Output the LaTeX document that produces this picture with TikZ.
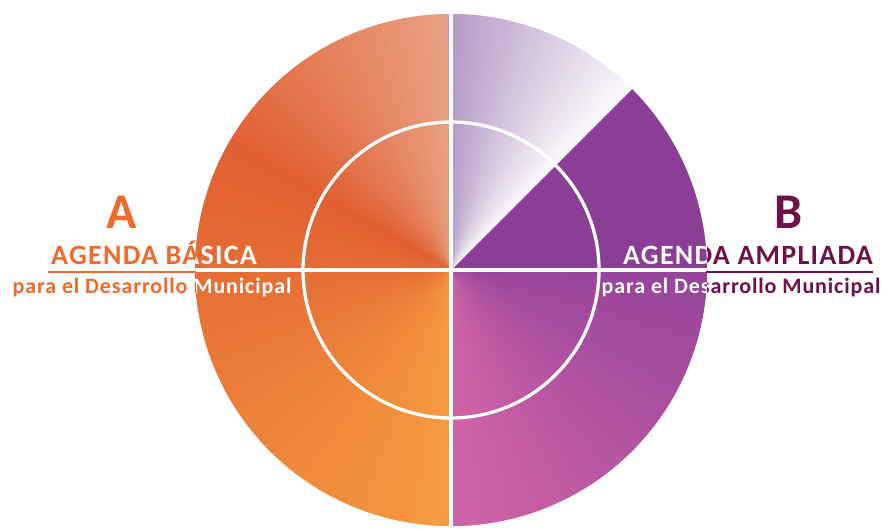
\documentclass[tikz,border=0pt]{standalone}
\usepackage{fontspec}
\setmainfont{Carlito}
\usepackage{tikz}

% colours of the two halves
\definecolor{orlight}{HTML}{E9A183}
\definecolor{ordark}{HTML}{E05F31}
\definecolor{orwarm}{HTML}{F69C40}
\definecolor{pugrey}{HTML}{B49AC4}
\definecolor{puwhite}{HTML}{FBF8FB}
\definecolor{pusolid}{HTML}{8A3E96}
\definecolor{pupink}{HTML}{D163A7}
\definecolor{puviolet}{HTML}{96459B}
\definecolor{txtorange}{HTML}{EF6A2B}
\definecolor{txtplum}{HTML}{6E1149}

\begin{document}
\begin{tikzpicture}[x=1pt,y=-1pt,
    title/.style = {font=\bfseries\fontsize{28}{32}\selectfont\addfontfeatures{LetterSpace=4.5}, inner sep=0pt, anchor=base},
    sub/.style = {font=\bfseries\fontsize{22}{26}\selectfont\addfontfeatures{LetterSpace=4}, inner sep=0pt, anchor=base},
    letter/.style = {font=\bfseries\fontsize{50}{56}\selectfont, inner sep=0pt, anchor=base},
    whiteline/.style = {draw=white, line width=3.3pt}]
\useasboundingbox (0,0) rectangle (890,528);
\coordinate (c) at (451,270);

% left half: orange sweep
\foreach \a in {90,91,...,149}{
  \pgfmathsetmacro\p{100*(\a-90)/60}
  \fill[ordark!\p!orlight] (c) -- ++(\a:256pt) arc[start angle=\a,end angle=\a+2,radius=256pt] -- cycle;
}
\foreach \a in {150,151,...,269}{
  \pgfmathsetmacro\p{100*(\a-150)/120}
  \fill[orwarm!\p!ordark] (c) -- ++(\a:256pt) arc[start angle=\a,end angle=\a+2,radius=256pt] -- cycle;
}
% right half
\foreach \a in {270,271,...,359}{
  \pgfmathsetmacro\p{100*(\a-270)/90}
  \fill[puviolet!\p!pupink] (c) -- ++(\a:256pt) arc[start angle=\a,end angle=\a+2,radius=256pt] -- cycle;
}
\fill[pusolid] (c) -- ++(0:256pt) arc[start angle=0,end angle=45,radius=256pt] -- cycle;
\foreach \a in {45,46,...,89}{
  \pgfmathsetmacro\p{100*(\a-45)/45}
  \fill[pugrey!\p!puwhite] (c) -- ++(\a:256pt) arc[start angle=\a,end angle=\a+1.8,radius=256pt] -- cycle;
}

% white cross and ring
\coordinate (top) at (451,14);
\coordinate (bot) at (451,526);
\coordinate (west) at (195,270);
\coordinate (east) at (707,270);
\draw[whiteline] (c) circle[radius=148pt];
\draw[whiteline, line width=3.8pt] (top) -- (bot);
\draw[whiteline] (west) -- (east);

% underlines outside the circle
\coordinate (ulA) at (48,271.5);
\coordinate (ulB) at (873,271.5);
\coordinate (westu) at (196,271.5);
\coordinate (eastu) at (706,271.5);
\draw[txtorange, line width=2pt] (ulA) -- (westu);
\draw[txtplum, line width=2pt] (eastu) -- (ulB);

% labels
\node[letter, txtorange] (A) at (122,228) {A};
\node[title, txtorange] (agA) at (154,264.5) {AGENDA BÁSICA};
\node[sub, txtorange] (subA) at (152,293) {para el Desarrollo Municipal};
\node[letter, txtplum] (B) at (788,228) {B};
\node[title, txtplum] (agB) at (748,264.5) {AGENDA AMPLIADA};
\node[sub, txtplum] (subB) at (741,293) {para el Desarrollo Municipal};

% white where the labels cross the circle
\begin{scope}
  \clip (c) circle[radius=256pt];
  \node[title, white] (agAw) at (154,264.5) {AGENDA BÁSICA};
  \node[sub, white] (subAw) at (152,293) {para el Desarrollo Municipal};
  \node[title, white] (agBw) at (748,264.5) {AGENDA AMPLIADA};
  \node[sub, white] (subBw) at (741,293) {para el Desarrollo Municipal};
\end{scope}
\end{tikzpicture}
\end{document}
